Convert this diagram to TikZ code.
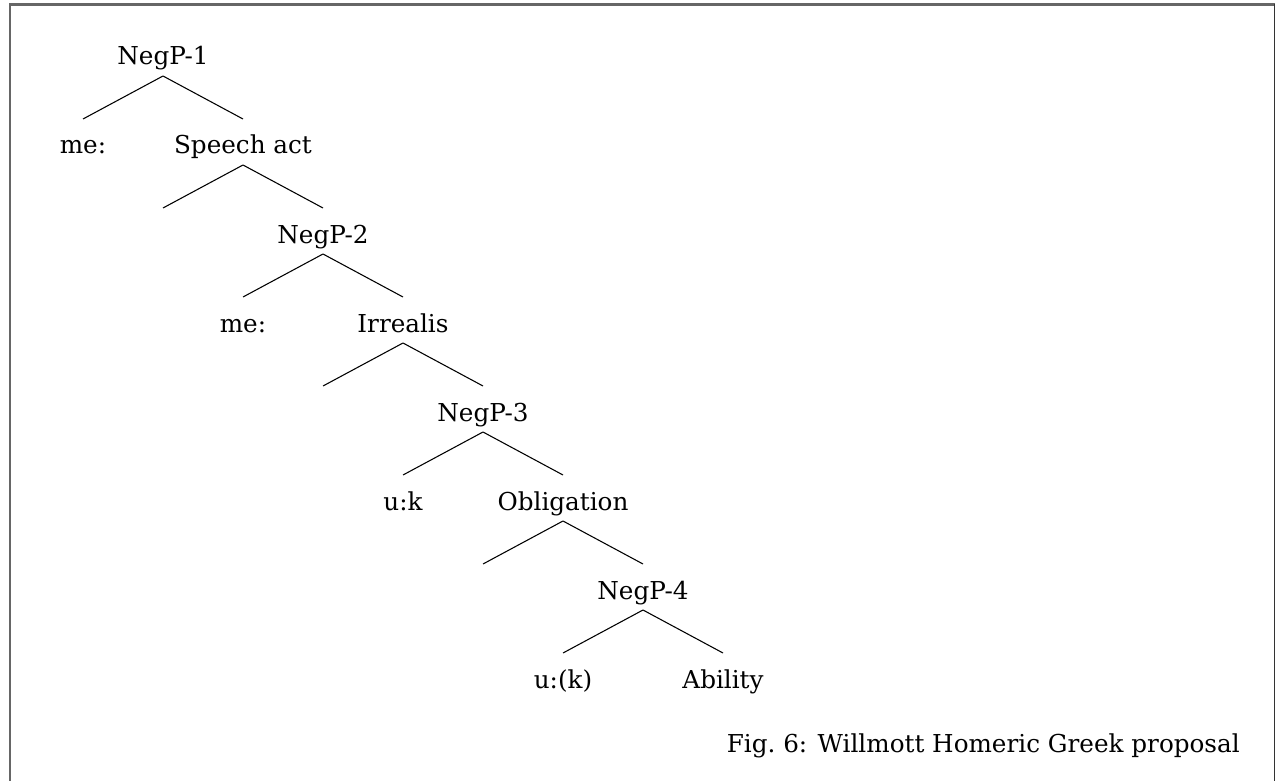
\documentclass[tikz,border=0pt]{standalone}
\usepackage{fontspec}
\setmainfont{DejaVu Serif}
\begin{document}
\begin{tikzpicture}[x=0.75pt,y=-0.75pt,
  lbl/.style={anchor=base,inner sep=0pt,font=\fontsize{18.5}{22}\selectfont},
  branch/.style={line width=0.8pt,black},
  frameL/.style={line width=1.6pt,draw=black!60},
  frameR/.style={line width=1pt,draw=black!80}]
\useasboundingbox (0,0) rectangle (1281,781);
% frame (open at the bottom)
\draw[frameL] (10,781) -- (10,4.5) -- (1274.5,4.5);
\draw[frameR] (1274.5,4.5) -- (1274.5,781);
% tree labels, one row every 89px; empty nodes mark bare branch ends
\node[lbl] (n1)  at (163,65)  {NegP-1};
\node[lbl] (me1) at (83,154)  {me:};
\node[lbl] (sa)  at (243,154) {Speech act};
\node[lbl] (e1)  at (163,243) {};
\node[lbl] (n2)  at (323,243) {NegP-2};
\node[lbl] (me2) at (243,332) {me:};
\node[lbl] (ir)  at (403,332) {Irrealis};
\node[lbl] (e2)  at (323,421) {};
\node[lbl] (n3)  at (483,421) {NegP-3};
\node[lbl] (uk)  at (403,510) {u:k};
\node[lbl] (ob)  at (563,510) {Obligation};
\node[lbl] (e3)  at (483,599) {};
\node[lbl] (n4)  at (643,599) {NegP-4};
\node[lbl] (uk2) at (563,688) {u:(k)};
\node[lbl] (ab)  at (723,688) {Ability};
% branches: from just below the parent's baseline to above the child's text
\foreach \p/\c in {n1/me1,n1/sa,sa/e1,sa/n2,n2/me2,n2/ir,ir/e2,ir/n3,n3/uk,n3/ob,ob/e3,ob/n4,n4/uk2,n4/ab}
  \draw[branch] ([yshift=-8.25pt]\p.base) -- ([yshift=26.25pt]\c.base);
% caption
\node[lbl,anchor=base east] (cap) at (1240,752) {Fig.~6: Willmott Homeric Greek proposal};
\end{tikzpicture}
\end{document}
